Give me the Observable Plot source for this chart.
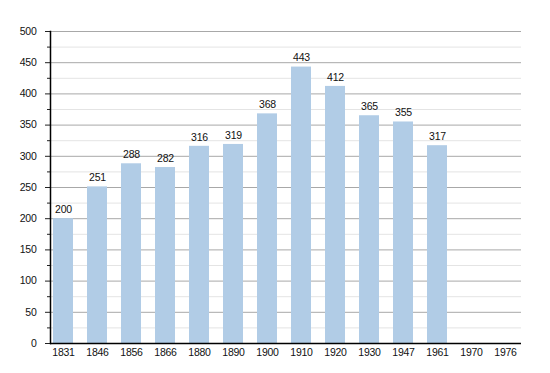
<!DOCTYPE html>
<html><head><meta charset="utf-8">
<script src="https://cdn.jsdelivr.net/npm/d3@7"></script>
<script src="https://cdn.jsdelivr.net/npm/@observablehq/plot@0.6"></script>
<style>body{margin:0;background:#fff} svg text{letter-spacing:-0.25px}</style>
</head><body><div id="chart"></div>
<script>
const years = ["1831","1846","1856","1866","1880","1890","1900","1910","1920","1930","1947","1961","1970","1976"];
const population = [200,251,288,282,316,319,368,443,412,365,355,317,null,null];
const majorTicks = [0,50,100,150,200,250,300,350,400,450,500];
const minorTicks = [25,75,125,175,225,275,325,375,425,475];

const data = years.map((y,i)=>({year:y, value:population[i]})).filter(d=>d.value!=null);

const chart = Plot.plot({
  width: 550, height: 373,
  marginTop: 31, marginBottom: 30, marginLeft: 50, marginRight: 29,
  style: {fontFamily: "'Liberation Sans', Arial, sans-serif", fontSize: "10px", color: "#222", background: "#fff"},
  x: {domain: years, type: "band", paddingInner: 0.4, paddingOuter: 0.2, range: [42.5, 526.5], label: null},
  y: {domain: [0,500], label: null},
  marks: [
    Plot.ruleY(minorTicks, {stroke: "#e4e4e4", strokeWidth: 1}),
    Plot.ruleY(majorTicks.filter(d=>d>0), {stroke: "#a8a8a8", strokeWidth: 1}),
    Plot.barY(data, {x: "year", y: "value", fill: "#b1cce6"}),
    Plot.text(data, {x: "year", y: "value", text: d=>String(d.value), dy: -9, fill: "#111", fontSize: 10.5}),
    Plot.axisY({ticks: majorTicks, tickSize: 5, tickPadding: 9, fill: "#111", fontSize: 10.5}),
    Plot.axisY({ticks: minorTicks, tickSize: 3, tickFormat: () => ""}),
    Plot.axisX({tickSize: 0, tickPadding: 5, fill: "#111", fontSize: 10.5}),
    Plot.ruleY([0], {stroke: "#000", strokeWidth: 1.5}),
    Plot.frame({anchor: "left", stroke: "#000", strokeWidth: 1.5})
  ]
});
document.getElementById("chart").append(chart);
</script>
</body></html>
